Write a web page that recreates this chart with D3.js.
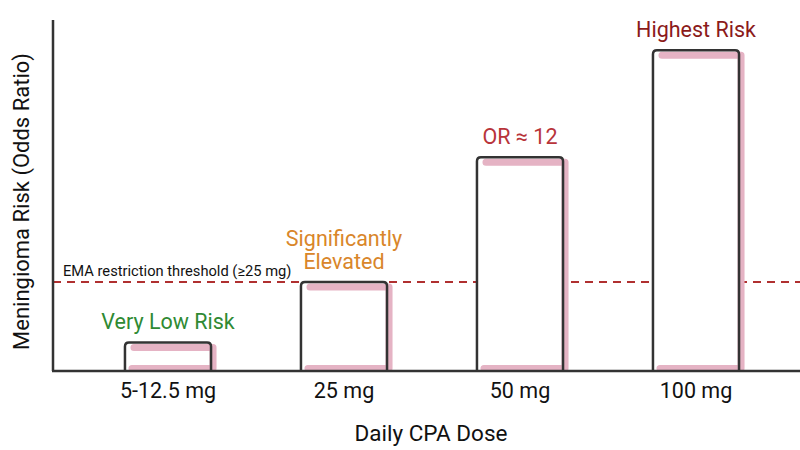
<!DOCTYPE html>
<html>
<head>
<meta charset="utf-8">
<script src="https://cdn.jsdelivr.net/npm/d3@7"></script>
<style>
  body { margin: 0; background: #fff; }
  svg { font-family: Roboto, "Noto Sans", sans-serif; }
</style>
</head>
<body>
<script>
(function(){

//chart data
var doses = ["5-12.5 mg", "25 mg", "50 mg", "100 mg"];
var oddsRatios = [1.6, 5, 12, 18];
var riskLabels = [["Very Low Risk"], ["Significantly", "Elevated"], ["OR \u2248 12"], ["Highest Risk"]];
var labelColors = ["#2f8a33", "#d9862a", "#b8343a", "#8b1a1a"];
var thresholdValue = 5;
var thresholdLabel = "EMA restriction threshold (\u226525 mg)";

//frame
var width = 800, height = 450;
var left = 53, bottom = 371, top = 20;

var svg = d3.select("body")
    .append("svg")
    .attr("width", width)
    .attr("height", height);

//scales
var x = d3.scaleBand()
    .domain(doses)
    .range([80, 784])
    .paddingInner(0.511)
    .paddingOuter(0.2555);

var y = d3.scaleLinear()
    .domain([0, 19.7])
    .range([bottom, top]);

var bw = x.bandwidth();

//threshold line
svg.append("line")
    .attr("x1", left)
    .attr("x2", width)
    .attr("y1", y(thresholdValue))
    .attr("y2", y(thresholdValue))
    .attr("stroke", "#b03030")
    .attr("stroke-width", 2)
    .attr("stroke-dasharray", "8,6");

svg.append("text")
    .attr("x", 63)
    .attr("y", y(thresholdValue) - 6)
    .attr("font-size", 14.7)
    .attr("fill", "#111")
    .text(thresholdLabel);

var bars = svg.selectAll(".bar")
    .data(doses)
    .enter()
    .append("g")
    .attr("class", "bar");

//white body
bars.append("rect")
    .attr("x", function(d){ return x(d); })
    .attr("y", function(d, i){ return y(oddsRatios[i]); })
    .attr("width", bw)
    .attr("height", function(d, i){ return bottom - y(oddsRatios[i]); })
    .attr("fill", "#fff");

//pink offset shadow (top, right, bottom)
bars.append("path")
    .attr("d", function(d, i){
        var x0 = x(d), y0 = y(oddsRatios[i]);
        return "M" + (x0 + 9) + "," + (y0 + 5) +
            "H" + (x0 + bw + 2) +
            "V" + (bottom - 2.5) +
            "H" + (x0 + 7);
    })
    .attr("fill", "none")
    .attr("stroke", "#e5b3c4")
    .attr("stroke-width", 7)
    .attr("stroke-linejoin", "round")
    .attr("stroke-linecap", "round");

//outline
bars.append("path")
    .attr("d", function(d, i){
        var x0 = x(d), y0 = y(oddsRatios[i]), r = 4;
        return "M" + x0 + "," + bottom +
            "V" + (y0 + r) +
            "Q" + x0 + "," + y0 + " " + (x0 + r) + "," + y0 +
            "H" + (x0 + bw - r) +
            "Q" + (x0 + bw) + "," + y0 + " " + (x0 + bw) + "," + (y0 + r) +
            "V" + bottom;
    })
    .attr("fill", "none")
    .attr("stroke", "#333")
    .attr("stroke-width", 2.5);

//risk labels above bars
bars.each(function(d, i){
    var lines = riskLabels[i];
    var g = d3.select(this);
    lines.forEach(function(t, j){
        g.append("text")
            .attr("x", x(d) + bw / 2)
            .attr("y", y(oddsRatios[i]) - 13 - (lines.length - 1 - j) * 23)
            .attr("text-anchor", "middle")
            .attr("font-size", 21.5)
            .attr("fill", labelColors[i])
            .text(t);
    });
});

//axes
svg.append("line")
    .attr("x1", left).attr("x2", left)
    .attr("y1", top).attr("y2", bottom)
    .attr("stroke", "#333").attr("stroke-width", 2.5);

svg.append("line")
    .attr("x1", left - 1).attr("x2", width)
    .attr("y1", bottom).attr("y2", bottom)
    .attr("stroke", "#333").attr("stroke-width", 2.5);

var xAxis = d3.axisBottom(x).tickSize(0).tickPadding(12);
var ax = svg.append("g")
    .attr("transform", "translate(0," + bottom + ")")
    .call(xAxis);
ax.select(".domain").remove();
ax.selectAll("text")
    .attr("font-size", 21.5)
    .attr("font-family", "Roboto, sans-serif")
    .attr("fill", "#111");

//axis titles
svg.append("text")
    .attr("x", 431)
    .attr("y", 441)
    .attr("text-anchor", "middle")
    .attr("font-size", 22.5)
    .attr("fill", "#111")
    .text("Daily CPA Dose");

svg.append("text")
    .attr("transform", "translate(29," + ((top + bottom) / 2 + 6) + ") rotate(-90)")
    .attr("text-anchor", "middle")
    .attr("font-size", 22)
    .attr("fill", "#111")
    .text("Meningioma Risk (Odds Ratio)");

})();
</script>
</body>
</html>
